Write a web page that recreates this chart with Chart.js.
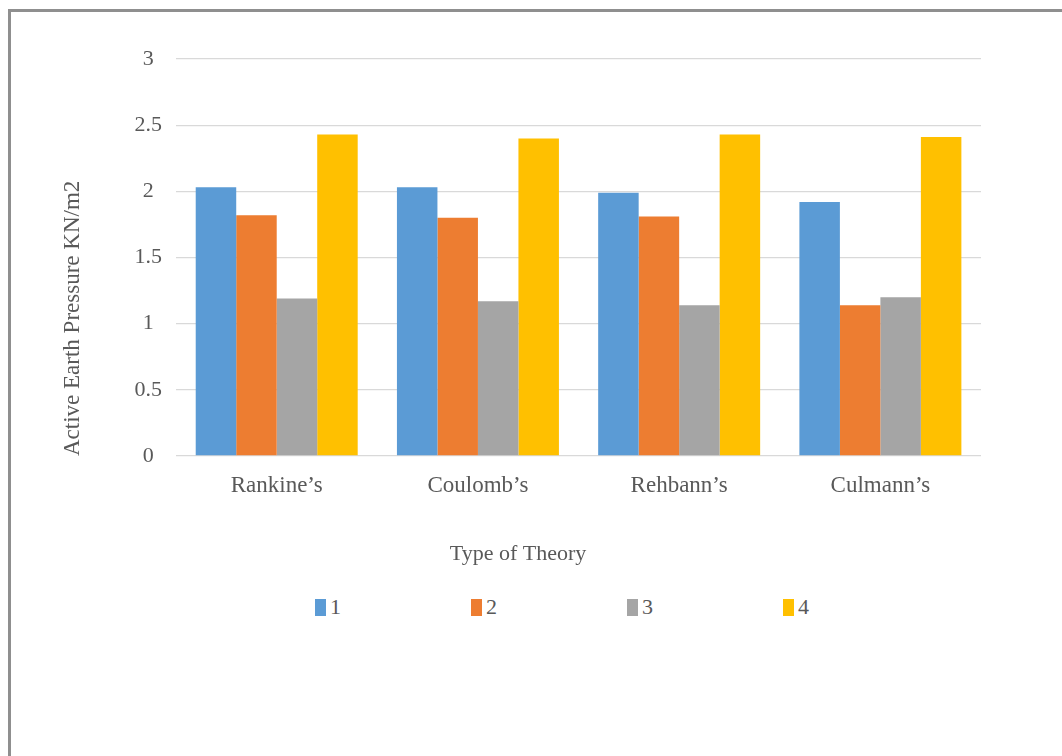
<!DOCTYPE html>
<html>
<head>
<meta charset="utf-8">
<title>Active Earth Pressure by Theory</title>
<script src="https://cdn.jsdelivr.net/npm/chart.js@4.4.1/dist/chart.umd.min.js"></script>
<style>
    html, body { margin: 0; padding: 0; background: #fff; overflow: hidden; }
    body { width: 1062px; height: 756px; position: relative; }
    #frame {
        position: absolute; left: 8px; top: 9px;
        width: 1200px; height: 900px;
        border-top: 3px solid #8f8f8f; border-left: 3px solid #8f8f8f;
    }
    #chart-box { position: absolute; left: 12px; top: 13px; width: 1050px; height: 562px; }
    #legend {
        position: absolute; left: 315px; top: 594px;
        display: flex; font-family: "Liberation Serif", "Times New Roman", serif;
        font-size: 22px; color: #595959;
    }
    #legend .item { width: 156px; display: flex; align-items: center; }
    #legend .key { width: 11px; height: 17px; margin-right: 4px; }
</style>
</head>
<body>
<div id="frame"></div>
<div id="chart-box"><canvas id="pressureChart"></canvas></div>
<div id="legend"></div>

<script>
const categories = ['Rankine’s', 'Coulomb’s', 'Rehbann’s', 'Culmann’s'];
const seriesNames = ['1', '2', '3', '4'];
const series1 = [2.03, 2.03, 1.99, 1.92];
const series2 = [1.82, 1.80, 1.81, 1.14];
const series3 = [1.19, 1.17, 1.14, 1.20];
const series4 = [2.43, 2.40, 2.43, 2.41];
const yTicks = [0, 0.5, 1, 1.5, 2, 2.5, 3];

const colors = ['#5b9bd5', '#ed7d31', '#a5a5a5', '#ffc000'];
const textGray = '#595959';
const serif = '"Liberation Serif", "Times New Roman", serif';

const datasets = [series1, series2, series3, series4].map((values, i) => ({
    label: seriesNames[i],
    data: values,
    backgroundColor: colors[i],
    borderWidth: 0,
    categoryPercentage: 0.805,
    barPercentage: 1.0
}));

const ctx = document.getElementById('pressureChart').getContext('2d');
const chart = new Chart(ctx, {
    type: 'bar',
    data: { labels: categories, datasets: datasets },
    options: {
        responsive: true,
        maintainAspectRatio: false,
        animation: false,
        layout: { padding: { left: 43, right: 81, top: 46, bottom: 0 } },
        scales: {
            x: {
                grid: { display: false },
                border: { display: false },
                ticks: { color: textGray, padding: 8, font: { family: serif, size: 23 } }
            },
            y: {
                min: 0,
                max: 3,
                afterBuildTicks: (axis) => { axis.ticks = yTicks.map(v => ({ value: v })); },
                grid: { color: '#d9d9d9', lineWidth: 1.3, drawTicks: false },
                border: { display: false },
                ticks: {
                    color: textGray, padding: 14, crossAlign: 'center',
                    font: { family: serif, size: 22 },
                    callback: (value) => String(value)
                },
                title: {
                    display: true,
                    text: 'Active Earth Pressure KN/m2',
                    align: 'start',
                    color: textGray,
                    padding: { top: 4, bottom: 34 },
                    font: { family: serif, size: 23 }
                }
            }
        },
        plugins: {
            legend: { display: false },
            tooltip: { enabled: false },
            title: {
                display: true,
                position: 'bottom',
                text: 'Type of Theory',
                color: textGray,
                padding: { top: 33, bottom: 8 },
                font: { family: serif, size: 22, weight: 'normal' }
            }
        }
    }
});

// legend row below the canvas, built from the datasets
const legendEl = document.getElementById('legend');
chart.data.datasets.forEach(ds => {
    const item = document.createElement('div');
    item.className = 'item';
    const key = document.createElement('span');
    key.className = 'key';
    key.style.background = ds.backgroundColor;
    const text = document.createElement('span');
    text.textContent = ds.label;
    item.appendChild(key);
    item.appendChild(text);
    legendEl.appendChild(item);
});
</script>
</body>
</html>
